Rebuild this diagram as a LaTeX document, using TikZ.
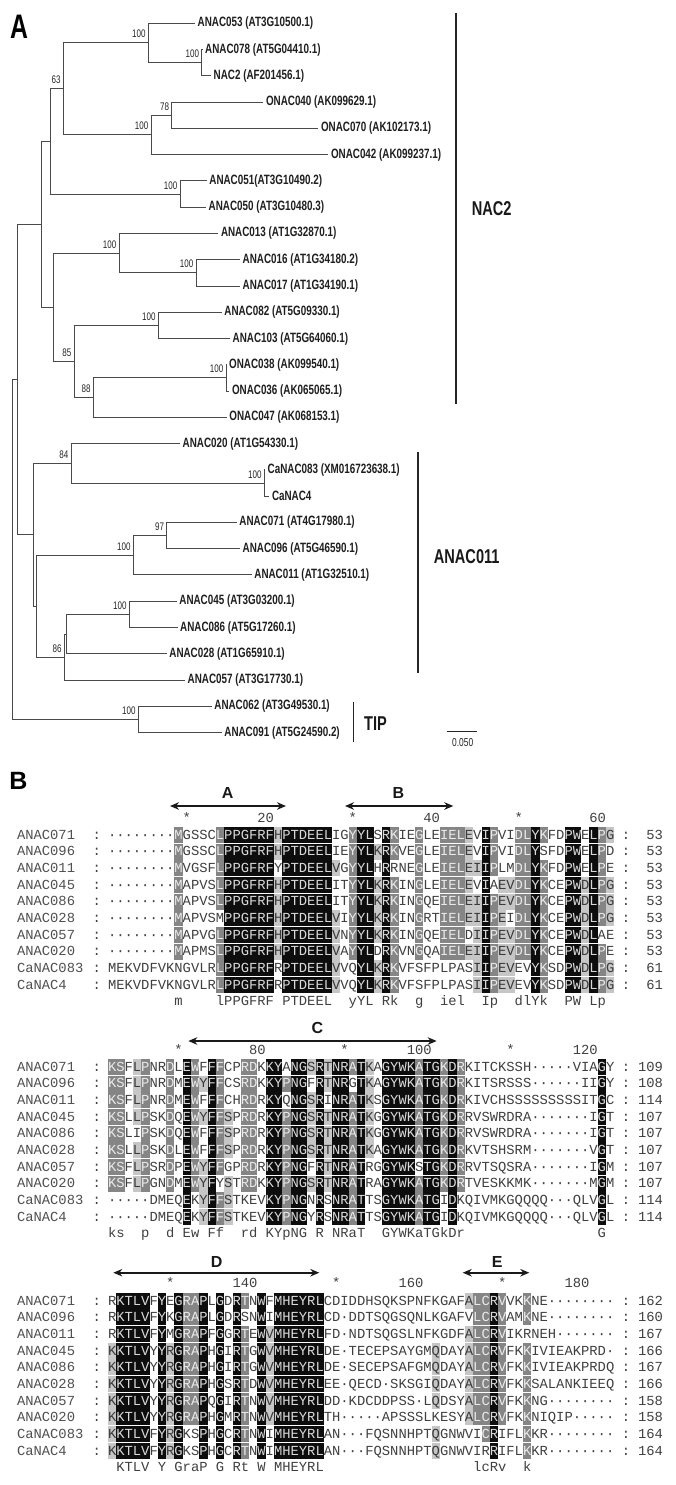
\documentclass[tikz,border=0pt]{standalone}
\usepackage{fontspec}
\setmainfont{Liberation Sans}
\newfontfamily\nf[FakeStretch=0.73]{Liberation Sans}
\newfontfamily\alnfont{Liberation Mono}
\usetikzlibrary{arrows.meta}
\definecolor{cblack}{HTML}{0D0D0D}
\definecolor{cdark}{HTML}{858585}
\definecolor{clight}{HTML}{C6C6C6}
\definecolor{tblack}{HTML}{D9D9D9}
\definecolor{tdark}{HTML}{EAEAEA}
\definecolor{tlight}{HTML}{3A3A3A}
\definecolor{tplain}{HTML}{404040}
\definecolor{tname}{HTML}{505050}
\definecolor{brc}{HTML}{4A4A4A}
\tikzset{
  alnch/.style={font=\alnfont\fontsize{13.83}{15}\selectfont,anchor=base,inner sep=0pt,outer sep=0pt},
  alnname/.style={alnch,anchor=base west,text=tname},
  alnnum/.style={alnch,anchor=base east,text=tplain},
  leaf/.style={font=\nf\bfseries\fontsize{13.5}{15}\selectfont,anchor=west,inner sep=0pt,xshift=2.5pt,text=black!88},
  boot/.style={font=\nf\fontsize{11}{13}\selectfont,anchor=base east,inner sep=0pt,text=black!85},
  br/.style={draw=brc,line width=1pt},
  cladebar/.style={draw=black!85,line width=1.6pt},
  cladelab/.style={font=\nf\bfseries\fontsize{20}{23}\selectfont,text=black!90},
  hdr/.style={font=\bfseries\fontsize{16}{18}\selectfont,text=black!90},
  hdarrow/.style={draw=black!90,line width=1.6pt,{Stealth[length=9pt,width=7.5pt]}-{Stealth[length=9pt,width=7.5pt]}}
}
\ExplSyntaxOn
\str_new:N \l__aln_ch_str
\str_new:N \l__aln_key_str
\str_new:N \l__aln_lev_str
\str_new:N \l__aln_seq_str
\str_new:N \l__aln_keys_str
\str_new:N \l__aln_levs_str
\cs_new_protected:Npn \__aln_cell:nnnn #1#2#3#4
  {
    \tl_if_blank:nF {#3}
      { \fill [#3] ( {108+(#2-1)*8.3} , {#1-7.9} ) rectangle ( {108+(#2)*8.3} , {#1+7.9} ) ; }
    \str_if_eq:VnTF \l__aln_ch_str { - }
      { \node [alnch , text=#4] at ( {108+(#2-0.5)*8.3} , {#1+4.3} ) {·} ; }
      { \node [alnch , text=#4] at ( {108+(#2-0.5)*8.3} , {#1+4.3} ) {\l__aln_ch_str} ; }
  }
\NewDocumentCommand \alnrow { m m m m }
  {
    \str_set:Nx \l__aln_seq_str {#2}
    \str_set:Nx \l__aln_keys_str {#3}
    \str_set:Nx \l__aln_levs_str {#4}
    \int_step_inline:nn { \str_count:N \l__aln_seq_str }
      {
        \str_set:Nx \l__aln_ch_str { \str_item:Nn \l__aln_seq_str {##1} }
        \str_set:Nx \l__aln_key_str { \str_item:Nn \l__aln_keys_str {##1} }
        \str_set:Nx \l__aln_lev_str { \str_item:Nn \l__aln_levs_str {##1} }
        \str_if_eq:NNTF \l__aln_ch_str \l__aln_key_str
          {
            \str_if_eq:VnTF \l__aln_lev_str { b }
              { \__aln_cell:nnnn {#1} {##1} {cblack} {tblack} }
              {
                \str_if_eq:VnTF \l__aln_lev_str { d }
                  { \__aln_cell:nnnn {#1} {##1} {cdark} {tdark} }
                  {
                    \str_if_eq:VnTF \l__aln_lev_str { l }
                      { \__aln_cell:nnnn {#1} {##1} {clight} {tlight} }
                      { \__aln_cell:nnnn {#1} {##1} {} {tplain} }
                  }
              }
          }
          { \__aln_cell:nnnn {#1} {##1} {} {tplain} }
      }
  }
\NewDocumentCommand \alncons { m m }
  {
    \str_set:Nx \l__aln_seq_str {#2}
    \int_step_inline:nn { \str_count:N \l__aln_seq_str }
      {
        \str_set:Nx \l__aln_ch_str { \str_item:Nn \l__aln_seq_str {##1} }
        \str_if_eq:VnF \l__aln_ch_str { . }
          { \__aln_cell:nnnn {#1} {##1} {} {tplain} }
      }
  }
\ExplSyntaxOff
\newcommand\alnlab[3]{%
  \node[alnname] at (17,#1+4.3) {#2};
  \node[alnch,text=tplain] at (96.7,#1+4.3) {:};
  \node[alnch,text=tplain] at (626,#1+4.3) {:};
  \node[alnnum] at (663,#1+4.3) {#3};}
\def\keyA{........M....LPPGFRFHPTDEELV.YYLKRK..G..IELEIIPEVDLYK..PWDLPG}
\def\levA{........d....dbbbbbblbbbbbbl.dbblbd..d..dddllbdllddbd..bblbdl}
\def\keyB{KS.LP..D.EWYFFS.RD.KYPNGSRTNRATK.GYWKATGKDR................G.}
\def\levB{dd.ld..d.bdlbdl.dd.bbdbblblbbdbl.bbbbdbbdbd................b.}
\def\keyC{KKTLV.YRGRAP.G.RT.WVMHEYRL.............Q...ALCRV..K..........}
\def\levC{lbbbb.blbddb.b.bd.blbbbbbb.............l...lddbd..d..........}
\begin{document}
\begin{tikzpicture}[x=1pt,y=-1pt]
\useasboundingbox (0,0) rectangle (676,1485);
\fill[white] (0,0) rectangle (676,1485);

% ================= Panel A : tree =================
\node[font=\nf\bfseries\fontsize{34}{36}\selectfont] (pA) at (19,26.5) {A};

\foreach \i/\tx/\lab in {
 1/195/{ANAC053 (AT3G10500.1)}, 2/202.5/{ANAC078 (AT5G04410.1)}, 3/211/{NAC2 (AF201456.1)},
 4/263.3/{ONAC040 (AK099629.1)}, 5/318.3/{ONAC070 (AK102173.1)}, 6/328.3/{ONAC042 (AK099237.1)},
 7/206.7/{ANAC051(AT3G10490.2)}, 8/206/{ANAC050 (AT3G10480.3)}, 9/218.3/{ANAC013 (AT1G32870.1)},
 10/240/{ANAC016 (AT1G34180.2)}, 11/240/{ANAC017 (AT1G34190.1)}, 12/221.7/{ANAC082 (AT5G09330.1)},
 13/230/{ANAC103 (AT5G64060.1)}, 14/226.5/{ONAC038 (AK099540.1)}, 15/229.3/{ONAC036 (AK065065.1)},
 16/226.7/{ONAC047 (AK068153.1)}, 17/180/{ANAC020 (AT1G54330.1)}, 18/265/{CaNAC083 (XM016723638.1)},
 19/269.3/{CaNAC4}, 20/236.7/{ANAC071 (AT4G17980.1)}, 21/240/{ANAC096 (AT5G46590.1)},
 22/251.7/{ANAC011 (AT1G32510.1)}, 23/176.7/{ANAC045 (AT3G03200.1)}, 24/177.5/{ANAC086 (AT5G17260.1)},
 25/166.7/{ANAC028 (AT1G65910.1)}, 26/185/{ANAC057 (AT3G17730.1)}, 27/211.7/{ANAC062 (AT3G49530.1)},
 28/221.7/{ANAC091 (AT5G24590.2)}} {
  \coordinate (t\i) at (\tx,{23.3+26.27*(\i-1)});
  \node[leaf] (L\i) at (t\i) {\lab};
}

\coordinate (na) at (201.7,62.7);
\coordinate (nb) at (148.3,43.0);
\coordinate (nc) at (171.7,115.25);
\coordinate (nd) at (151,134.95);
\coordinate (ne) at (63.3,88.98);
\coordinate (nf) at (180,194.06);
\coordinate (ng) at (50,141.52);
\coordinate (nh) at (196,272.87);
\coordinate (ni) at (119,253.16);
\coordinate (nj) at (158.3,325.4);
\coordinate (nk) at (226,377.95);
\coordinate (nl) at (93.3,397.65);
\coordinate (nm) at (74,361.53);
\coordinate (nn) at (53.3,307.35);
\coordinate (no) at (41.7,224.43);
\coordinate (np) at (264.3,483.03);
\coordinate (nq) at (71,463.33);
\coordinate (nr) at (166.7,535.57);
\coordinate (ns) at (133.3,555.27);
\coordinate (nt) at (129.3,614.38);
\coordinate (nu) at (66.7,634.08);
\coordinate (nv) at (64.3,657.07);
\coordinate (nw) at (36,606.17);
\coordinate (nx) at (33.3,534.75);
\coordinate (ny) at (17.3,379.59);
\coordinate (nz) at (138.3,719.46);
\coordinate (rt) at (12.7,549.5);

\foreach \p/\c in {na/t2,na/t3,nb/t1,nb/na,nc/t4,nc/t5,nd/nc,nd/t6,ne/nb,ne/nd,
  nf/t7,nf/t8,ng/ne,ng/nf,nh/t10,nh/t11,ni/t9,ni/nh,nj/t12,nj/t13,nk/t14,nk/t15,
  nl/nk,nl/t16,nm/nj,nm/nl,nn/ni,nn/nm,no/ng,no/nn,np/t18,np/t19,nq/t17,nq/np,
  nr/t20,nr/t21,ns/nr,ns/t22,nt/t23,nt/t24,nu/nt,nu/t25,nv/nu,nv/t26,nw/ns,nw/nv,
  nx/nq,nx/nw,ny/no,ny/nx,nz/t27,nz/t28,rt/ny,rt/nz}
  \draw[br] (\p) |- (\c);

\foreach \n/\v in {nb/100,na/100,ne/63,nc/78,nd/100,nf/100,ni/100,nh/100,nj/100,nm/85,
  nk/100,nl/88,nq/84,np/100,nr/97,ns/100,nt/100,nv/86,nz/100}
  \node[boot] (b\n) at ([xshift=-2.5pt,yshift=5pt]\n) {\v};

% clade bars
\coordinate (c1a) at (456,13); \coordinate (c1b) at (456,404);
\draw[cladebar] (c1a) -- (c1b);
\node[cladelab] (k1) at (491.7,209) {NAC2};
\coordinate (c2a) at (417.7,451.7); \coordinate (c2b) at (417.7,673.3);
\draw[cladebar] (c2a) -- (c2b);
\node[cladelab] (k2) at (466.7,556.7) {ANAC011};
\coordinate (c3a) at (353.3,701.7); \coordinate (c3b) at (353.3,741.7);
\draw[cladebar] (c3a) -- (c3b);
\node[cladelab] (k3) at (375.5,723.3) {TIP};

% scale bar
\coordinate (s1) at (446.7,731.7); \coordinate (s2) at (476.7,731.7);
\draw[draw=black!85,line width=1.2pt] (s1) -- (s2);
\node[font=\nf\fontsize{11.5}{13}\selectfont,text=black!85] (sl) at (462.7,742.5) {0.050};

% ================= Panel B : alignment =================
\node[font=\bfseries\fontsize{25}{28}\selectfont] (pB) at (18.5,781) {B};

% motif headers
\coordinate (aL) at (170,806);   \coordinate (aR) at (286,806);
\draw[hdarrow] (aL) -- (aR);  \node[hdr] (hA) at (227.7,793.3) {A};
\coordinate (bL) at (345,806);   \coordinate (bR) at (453.3,806);
\draw[hdarrow] (bL) -- (bR);  \node[hdr] (hB) at (398.3,793.3) {B};
\coordinate (cL) at (188.3,1041); \coordinate (cR) at (436.7,1041);
\draw[hdarrow] (cL) -- (cR);  \node[hdr] (hC) at (317.3,1028.3) {C};
\coordinate (dL) at (113.3,1272.7); \coordinate (dR) at (319.3,1272.7);
\draw[hdarrow] (dL) -- (dR);  \node[hdr] (hD) at (216.7,1261.7) {D};
\coordinate (eL) at (462.7,1272.7); \coordinate (eR) at (529.3,1272.7);
\draw[hdarrow] (eL) -- (eR);  \node[hdr] (hE) at (497.3,1261.7) {E};

% rulers
\foreach \c in {10,30,50} \node[alnch,text=tplain] at ({108+(\c-0.5)*8.3},818.3+4.3) {*};
\foreach \c/\t in {20/20,40/40,60/60} \node[alnnum] at ({108+\c*8.3},818.3+4.3) {\t};
\foreach \c in {9,29,49} \node[alnch,text=tplain] at ({108+(\c-0.5)*8.3},1050+4.3) {*};
\foreach \c/\t in {19/80,39/100,59/120} \node[alnnum] at ({108+\c*8.3},1050+4.3) {\t};
\foreach \c in {8,28,48} \node[alnch,text=tplain] at ({108+(\c-0.5)*8.3},1283.5+4.3) {*};
\foreach \c/\t in {18/140,38/160,58/180} \node[alnnum] at ({108+\c*8.3},1283.5+4.3) {\t};

% ---- block 1 ----
\alnrow{835}{--------MGSSCLPPGFRFHPTDEELIGYYLSRKIEGLEIELEVIPVIDLYKFDPWELPG}{\keyA}{\levA}
\alnrow{851.67}{--------MGSSCLPPGFRFHPTDEELIEYYLKRKVEGLEIELEVIPVIDLYSFDPWELPD}{\keyA}{\levA}
\alnrow{868.33}{--------MVGSFLPPGFRFYPTDEELVGYYLHRRNEGLEIELEIIPLMDLYKFDPWELPE}{\keyA}{\levA}
\alnrow{885}{--------MAPVSLPPGFRFHPTDEELITYYLKRKINGLEIELEVIAEVDLYKCEPWDLPG}{\keyA}{\levA}
\alnrow{901.67}{--------MAPVSLPPGFRFHPTDEELITYYLKRKINGQEIELEIIPEVDLYKCEPWDLPG}{\keyA}{\levA}
\alnrow{918.33}{--------MAPVSMPPGFRFHPTDEELVIYYLKRKINGRTIELEIIPEIDLYKCEPWDLPG}{\keyA}{\levA}
\alnrow{935}{--------MAPVGLPPGFRFHPTDEELVNYYLKRKINGQEIELDIIPEVDLYKCEPWDLAE}{\keyA}{\levA}
\alnrow{951.67}{--------MAPMSLPPGFRFHPTDEELVAYYLDRKVNGQAIELEIIPEVDLYKCEPWDLPE}{\keyA}{\levA}
\alnrow{968.33}{MEKVDFVKNGVLRLPPGFRFRPTDEELVVQYLKRKVFSFPLPASIIPEVEVYKSDPWDLPG}{\keyA}{\levA}
\alnrow{985}{MEKVDFVKNGVLRLPPGFRFRPTDEELVVQYLKRKVFSFPLPASIIPEVEVYKSDPWDLPG}{\keyA}{\levA}
\alncons{1001.67}{........m....lPPGFRF.PTDEEL..yYL.Rk..g..iel..Ip..dlYk..PW.Lp.}
\alnlab{835}{ANAC071}{53}
\alnlab{851.67}{ANAC096}{53}
\alnlab{868.33}{ANAC011}{53}
\alnlab{885}{ANAC045}{53}
\alnlab{901.67}{ANAC086}{53}
\alnlab{918.33}{ANAC028}{53}
\alnlab{935}{ANAC057}{53}
\alnlab{951.67}{ANAC020}{53}
\alnlab{968.33}{CaNAC083}{61}
\alnlab{985}{CaNAC4}{61}

% ---- block 2 ----
\alnrow{1067}{KSFLPNRDLEWFFFCPRDKKYANGSRTNRATKAGYWKATGKDRKITCKSSH-----VIAGY}{\keyB}{\levB}
\alnrow{1083.67}{KSFLPNRDMEWYFFCSRDKKYPNGFRTNRGTKAGYWKATGKDRKITSRSSS------IIGY}{\keyB}{\levB}
\alnrow{1100.33}{KSFLPNRDMEWFFFCHRDRKYQNGSRINRATKSGYWKATGKDRKIVCHSSSSSSSSSITGC}{\keyB}{\levB}
\alnrow{1117}{KSLLPSKDQEWYFFSPRDRKYPNGSRTNRATKGGYWKATGKDRRVSWRDRA-------IGT}{\keyB}{\levB}
\alnrow{1133.67}{KSLIPSKDQEWFFFSPRDRKYPNGSRTNRATKGGYWKATGKDRRVSWRDRA-------IGT}{\keyB}{\levB}
\alnrow{1150.33}{KSLLPSKDLEWFFFSPRDRKYPNGSRTNRATKAGYWKATGKDRKVTSHSRM-------VGT}{\keyB}{\levB}
\alnrow{1167}{KSFLPSRDPEWYFFGPRDRKYPNGFRTNRATRGGYWKSTGKDRRVTSQSRA-------IGM}{\keyB}{\levB}
\alnrow{1183.67}{KSFLPGNDMEWYFYSTRDKKYPNGSRTNRATRAGYWKATGKDRTVESKKMK-------MGM}{\keyB}{\levB}
\alnrow{1200.33}{-----DMEQEKYFFSTKEVKYPNGNRSNRATTSGYWKATGIDKQIVMKGQQQQ---QLVGL}{\keyB}{\levB}
\alnrow{1217}{-----DMEQEKYFFSTKEVKYPNGYRSNRATTSGYWKATGIDKQIVMKGQQQQ---QLVGL}{\keyB}{\levB}
\alncons{1233.67}{ks..p..d.Ew.Ff..rd.KYpNG.R.NRaT..GYWKaTGkDr................G.}
\alnlab{1067}{ANAC071}{109}
\alnlab{1083.67}{ANAC096}{108}
\alnlab{1100.33}{ANAC011}{114}
\alnlab{1117}{ANAC045}{107}
\alnlab{1133.67}{ANAC086}{107}
\alnlab{1150.33}{ANAC028}{107}
\alnlab{1167}{ANAC057}{107}
\alnlab{1183.67}{ANAC020}{107}
\alnlab{1200.33}{CaNAC083}{114}
\alnlab{1217}{CaNAC4}{114}

% ---- block 3 ----
\alnrow{1300.7}{RKTLVFYEGRAPLGDRTNWFMHEYRLCDIDDHSQKSPNFKGAFALCRVVKKNE--------}{\keyC}{\levC}
\alnrow{1317.37}{RKTLVFYKGRAPLGDRSNWIMHEYRLCD-DDTSQGSQNLKGAFVLCRVAMKNE--------}{\keyC}{\levC}
\alnrow{1334.03}{RKTLVFYMGRAPFGGRTEWVMHEYRLFD-NDTSQGSLNFKGDFALCRVIKRNEH-------}{\keyC}{\levC}
\alnrow{1350.7}{KKTLVYYRGRAPHGIRTGWVMHEYRLDE-TECEPSAYGMQDAYALCRVFKKIVIEAKPRD-}{\keyC}{\levC}
\alnrow{1367.37}{KKTLVYYRGRAPHGIRTGWVMHEYRLDE-SECEPSAFGMQDAYALCRVFKKIVIEAKPRDQ}{\keyC}{\levC}
\alnrow{1384.03}{KKTLVYYRGRAPHGSRTDWVMHEYRLEE-QECD-SKSGIQDAYALCRVFKKSALANKIEEQ}{\keyC}{\levC}
\alnrow{1400.7}{KKTLVYYRGRAPQGIRTNWVMHEYRLDD-KDCDDPSS-LQDSYALCRVFKKNG--------}{\keyC}{\levC}
\alnrow{1417.37}{KKTLVYYRGRAPHGMRTNWVMHEYRLTH-----APSSSLKESYALCRVFKKNIQIP-----}{\keyC}{\levC}
\alnrow{1434.03}{KKTLVFYRGKSPHGCRTNWIMHEYRLAN---FQSNNHPTQGNWVICRIFLKKR--------}{\keyC}{\levC}
\alnrow{1450.7}{KKTLVFYRGKSPHGCRTNWIMHEYRLAN---FQSNNHPTQGNWVIRRIFLKKR--------}{\keyC}{\levC}
\alncons{1467.37}{.KTLV.Y.GraP.G.Rt.W.MHEYRL..................lcRv..k..........}
\alnlab{1300.7}{ANAC071}{162}
\alnlab{1317.37}{ANAC096}{160}
\alnlab{1334.03}{ANAC011}{167}
\alnlab{1350.7}{ANAC045}{166}
\alnlab{1367.37}{ANAC086}{167}
\alnlab{1384.03}{ANAC028}{166}
\alnlab{1400.7}{ANAC057}{158}
\alnlab{1417.37}{ANAC020}{158}
\alnlab{1434.03}{CaNAC083}{164}
\alnlab{1450.7}{CaNAC4}{164}
\end{tikzpicture}
\end{document}
